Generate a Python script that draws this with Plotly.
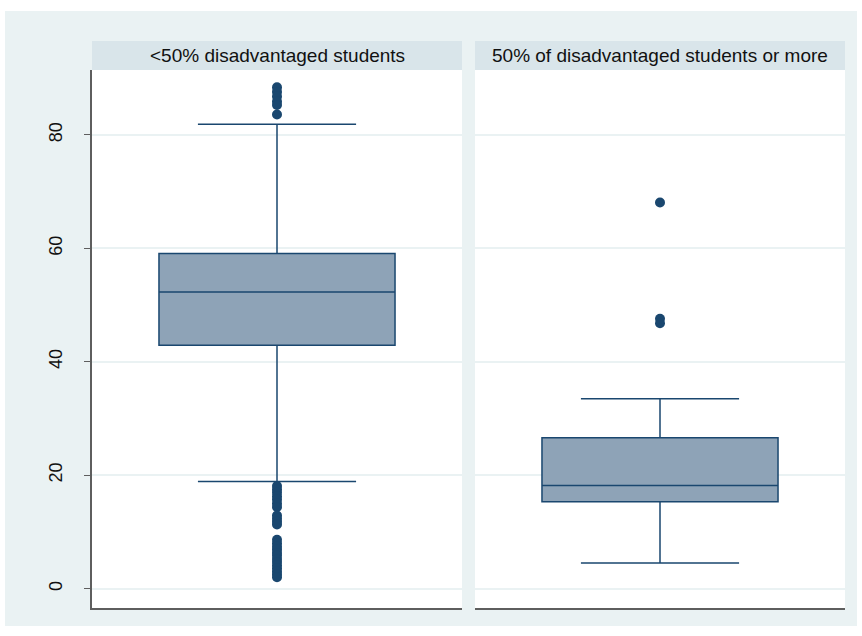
import plotly.graph_objects as go

# Group labels (panel headers)
groups = ["<50% disadvantaged students", "50% of disadvantaged students or more"]

# Box summary statistics per group
q1 = [42.9, 15.3]
median = [52.3, 18.2]
q3 = [59.1, 26.6]
lower_fence = [18.9, 4.5]
upper_fence = [81.9, 33.5]

# Outside values per group
outliers_low_group = [
    88.4, 87.6, 86.8, 85.9, 85.3, 83.6,
    18.1, 17.5, 16.9, 16.3, 15.7, 15.0, 14.4, 12.9, 12.3, 11.8, 11.3,
    8.6, 8.0, 7.4, 6.9, 6.3, 5.8, 5.2, 4.7, 4.1, 3.6, 3.0, 2.5, 2.0,
]
outliers_high_group = [68.1, 47.6, 46.8]

y_ticks = [0, 20, 40, 60, 80]

NAVY = "#1A476F"
BOX_FILL = "#8EA3B7"
BG = "#EAF2F3"
STRIP = "#D9E5EA"
AXIS = "#5E5E5E"

fig = go.Figure()

outlier_sets = [outliers_low_group, outliers_high_group]
for i, name in enumerate(groups):
    xa = "x" if i == 0 else "x2"
    ya = "y" if i == 0 else "y2"
    fig.add_trace(go.Box(
        x=[0], q1=[q1[i]], median=[median[i]], q3=[q3[i]],
        lowerfence=[lower_fence[i]], upperfence=[upper_fence[i]],
        boxpoints=False, width=0.638, whiskerwidth=0.67,
        fillcolor=BOX_FILL, line=dict(color=NAVY, width=1.5),
        xaxis=xa, yaxis=ya, name=name, showlegend=False, hoverinfo="skip",
    ))
    pts = outlier_sets[i]
    fig.add_trace(go.Scatter(
        x=[0] * len(pts), y=pts, mode="markers",
        marker=dict(color=NAVY, size=10, line=dict(width=0)),
        xaxis=xa, yaxis=ya, showlegend=False, hoverinfo="skip",
    ))

y_range = [-3.42, 91.46]
xcommon = dict(range=[-0.5, 0.5], showline=True, linecolor=AXIS, linewidth=1.5,
               showticklabels=False, ticks="", showgrid=False, zeroline=False, fixedrange=True)
ycommon = dict(range=y_range, tickvals=y_ticks, showgrid=True, gridcolor=BG, gridwidth=1.5,
               zeroline=False, fixedrange=True)

d_left = [0, (462 - 92) / 753]
d_right = [(475 - 92) / 753, 1]

fig.update_layout(
    width=862, height=636,
    margin=dict(l=92, r=17, t=70, b=28),
    paper_bgcolor=BG, plot_bgcolor="white",
    font=dict(family="Liberation Sans, Arial, sans-serif", color="#111111"),
    xaxis=dict(domain=d_left, anchor="y", **xcommon),
    xaxis2=dict(domain=d_right, anchor="y2", **xcommon),
    yaxis=dict(anchor="x", showline=True, linecolor=AXIS, linewidth=1.5,
               ticks="outside", ticklen=6, tickcolor=AXIS, tickwidth=1,
               tickangle=-90, ticklabelstandoff=15,
               tickfont=dict(size=18, color="#111111"), **ycommon),
    yaxis2=dict(anchor="x2", matches="y", showline=False, ticks="",
                showticklabels=False, **ycommon),
)

# Panel header strips and titles
strip_top = (608 - 41) / 538
for i, name in enumerate(groups):
    xr = "x domain" if i == 0 else "x2 domain"
    fig.add_shape(type="rect", xref=xr, yref="paper", x0=0, x1=1, y0=1, y1=strip_top,
                  fillcolor=STRIP, line=dict(width=0), layer="below")
    fig.add_annotation(xref=xr, yref="paper", x=0.5, y=(1 + strip_top) / 2,
                       text=name, showarrow=False, xanchor="center", yanchor="middle",
                       font=dict(size=19, color="#111111"))

# White outer margin around the graph region
W = 753
H = 538
for (x0, x1, y0, y1) in [
    ((0 - 92) / W, (5 - 92) / W, -0.06, 1.14),
    ((857 - 92) / W, (862 - 92) / W, -0.06, 1.14),
    (-0.13, 1.03, (608 - 0) / H, (608 - 11) / H),
    (-0.13, 1.03, (608 - 626) / H, (608 - 636) / H),
]:
    fig.add_shape(type="rect", xref="paper", yref="paper", x0=x0, x1=x1, y0=y0, y1=y1,
                  fillcolor="white", line=dict(width=0), layer="above")

fig.write_html("out.html")
